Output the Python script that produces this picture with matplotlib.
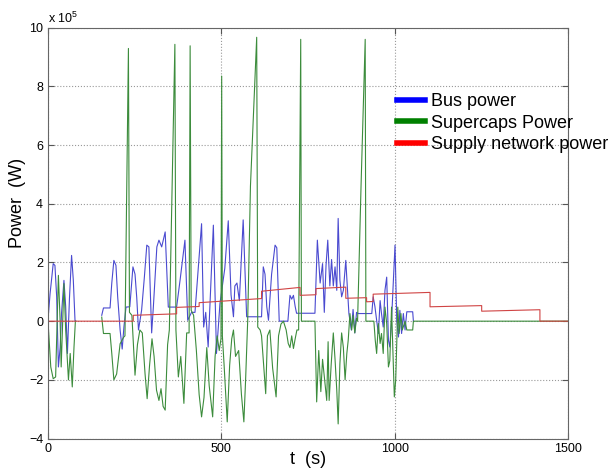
import matplotlib
matplotlib.use('Agg')
import matplotlib.pyplot as plt
from matplotlib.lines import Line2D

plt.rcParams['font.family'] = ['Liberation Sans', 'DejaVu Sans']
plt.rcParams['mathtext.fontset'] = 'custom'
plt.rcParams['mathtext.rm'] = 'Liberation Sans'

# power values in units of 1e5 W, time in s
bus_t_a = [0, 1, 6, 11, 15, 20, 25, 30, 35, 39, 46, 51, 56, 62, 68, 73, 78, 80]
bus_p_a = [0.2, 0.2, 0.94, 1.5, 1.96, 1.9, 0.83, -1.56, -0.9, 0.26, 1.39, 0.5,
           -1.1, 0.8, 2.24, 1.4, 0.0, 0.0]

bus_t_b = [155, 160, 179, 184, 190, 196, 201, 208, 214, 219, 225, 236, 245, 251,
           256, 261, 270, 278, 285, 291, 299, 304, 314, 320, 328, 338, 347, 371,
           381, 395, 403, 414, 424, 443, 449, 455, 462, 477, 486, 496, 510, 520,
           528, 535, 539, 545, 552, 563, 573, 616, 621, 626, 631, 636, 645, 655,
           660, 667, 692, 698, 703, 708, 713, 717, 770, 777, 785, 792, 797, 802,
           807, 813, 818, 823, 828, 833, 837, 842, 847, 852, 859, 864, 868, 875,
           880, 885, 890, 895, 934, 938, 943, 948, 953, 958, 962, 967, 972, 977,
           982, 986, 991, 1001, 1006, 1011, 1015, 1020, 1025, 1030, 1035, 1052,
           1054]
bus_p_b = [0.2, 0.45, 0.45, 1.3, 2.07, 1.9, 0.83, -0.3, -0.95, -0.2, 0.48, 0.49,
           1.85, 1.6, 0.8, -0.3, 0.37, 1.5, 2.59, 2.53, -0.4, 0.5, 2.53, 2.76,
           2.53, 3.04, 0.48, 0.48, 1.4, 2.76, 0.03, 0.3, 0.3, 3.32, -0.2, 0.3,
           -0.88, 3.27, -1.1, 0.6, 1.8, 3.42, 0.9, 0.15, 1.2, 1.3, 0.7, 3.45,
           0.15, 0.15, 1.85, 1.6, 0.5, 0.03, 1.6, 2.59, 2.5, 0.0, 0.0, 0.88,
           0.75, 0.88, 0.5, 0.27, 0.27, 2.76, 1.3, 1.96, 0.3, 1.9, 2.76, 1.2,
           2.1, 1.2, 1.85, 1.05, 3.5, 1.4, 0.83, 1.05, 2.07, 1.05, 0.26, -0.3,
           0.4, -0.4, 0.3, 0.26, 0.26, 0.83, 0.5, 0.03, -0.42, 0.7, 0.26, -0.2,
           1.05, 1.5, -0.65, -0.88, 0.03, 2.59, 0.03, -0.54, 0.37, -0.42, 0.26,
           -0.3, 0.32, 0.32, 0.0]

cap_t_a = [0, 1, 8, 15, 22, 30, 35, 38, 46, 51, 59, 64, 70, 75, 79, 80]
cap_p_a = [0.14, -0.2, -1.56, -1.96, -1.9, 1.56, 0.0, -1.56, 1.28, -0.3, -2.0,
           -1.1, -2.24, -0.88, 0.0, 0.0]

cap_t_b = [155, 160, 179, 184, 190, 198, 208, 218, 222, 232, 235, 242, 251, 258,
           265, 272, 280, 286, 293, 300, 306, 313, 320, 326, 332, 338, 345, 350,
           366, 369, 376, 383, 392, 400, 407, 410, 413, 420, 428, 436, 443, 450,
           458, 465, 475, 482, 488, 494, 499, 501, 503, 508, 517, 524, 530, 535,
           541, 550, 558, 565, 570, 576, 584, 602, 605, 612, 616, 621, 628, 633,
           640, 648, 658, 665, 672, 679, 687, 693, 698, 703, 708, 713, 718, 723,
           729, 731, 770, 775, 781, 787, 792, 798, 804, 808, 811, 817, 823, 828,
           833, 837, 842, 847, 852, 857, 862, 866, 871, 876, 880, 885, 890, 893,
           903, 915, 917, 940, 944, 948, 953, 958, 962, 967, 972, 977, 982, 986,
           991, 999, 1003, 1009, 1013, 1018, 1022, 1030, 1035, 1052, 1054, 1500]
cap_p_b = [0.14, -0.42, -0.42, -1.1, -2.0, -1.8, -0.77, -0.55, -0.5, 9.29, 0.3,
           0.2, -1.84, -0.8, -0.3, -0.4, -1.8, -2.64, -1.5, -0.6, -1.2, -2.35,
           -2.7, -2.3, -2.9, -3.03, -0.8, -0.3, 9.43, -0.3, -1.9, -1.2, -2.8,
           -0.4, -0.4, 9.38, 0.37, 0.2, -1.0, -2.5, -3.26, -2.6, -0.9, -2.2,
           -3.26, -1.2, -0.5, -1.0, -0.6, 8.35, -0.5, -1.5, -3.43, -1.5, -0.6,
           -0.3, -1.2, -1.0, -2.5, -3.43, -2.0, 0.0, 4.6, 9.67, -0.2, -0.3, -0.5,
           -1.3, -2.47, -0.5, -0.3, -1.6, -2.58, -0.5, -0.1, 0.0, -0.3, -0.76,
           -0.9, -0.5, -0.93, -0.6, -0.3, -0.3, 9.6, 0.0, 0.0, -2.75, -1.0, -2.4,
           -1.3, -2.0, -2.7, -0.7, -2.7, -1.45, -0.4, -1.3, -2.35, -3.5, -1.45,
           -0.4, -0.9, -2.0, -1.1, -0.65, 0.26, -0.3, 0.2, -0.4, 0.1, 0.0, 4.6,
           9.6, 0.0, 0.0, -0.65, -1.1, -0.08, -0.76, -0.42, -1.1, 0.48, -0.08,
           -1.56, -1.35, 0.48, -2.58, -2.0, 0.48, -0.42, 0.26, -0.3, 0.0, -0.3,
           -0.3, 0.0, 0.0]

net_t = [0, 246, 246, 371, 371, 436, 436, 616, 616, 727, 727, 773, 773, 859,
         859, 919, 919, 938, 938, 1102, 1102, 1251, 1251, 1419, 1419, 1500]
net_p = [0, 0, 0.2, 0.25, 0.47, 0.5, 0.63, 0.77, 1.02, 1.15, 0.88, 0.9, 1.11,
         1.16, 0.78, 0.8, 0.66, 0.67, 0.92, 0.98, 0.49, 0.53, 0.34, 0.39, 0, 0]

labels = ['Bus power', 'Supercaps Power', 'Supply network power']
yticks = [-4, -2, 0, 2, 4, 6, 8, 10]
xticks = [0, 500, 1000, 1500]

fig = plt.figure(figsize=(6.13, 4.70), dpi=100)
ax = fig.add_axes([48 / 613, 1 - 438.6 / 470, 520 / 613, 411 / 470])

lw = 0.8
ax.plot(bus_t_a, bus_p_a, color='#4a4ad0', lw=lw)
ax.plot(bus_t_b, bus_p_b, color='#4a4ad0', lw=lw)
ax.plot(cap_t_a, cap_p_a, color='#3c8c3c', lw=lw)
ax.plot(cap_t_b, cap_p_b, color='#3c8c3c', lw=lw)
ax.plot(net_t, net_p, color='#d04444', lw=lw)

ax.set_xlim(0, 1500)
ax.set_ylim(-4, 10)
ax.set_xticks(xticks)
ax.set_yticks(yticks)
ax.grid(True, linestyle=':', color='#999999', lw=0.8)
ax.tick_params(direction='in', length=4, labelsize=9, top=True, right=True,
               color='#555555')
for s in ax.spines.values():
    s.set_color('#666666')

handles = [Line2D([], [], color=c, lw=4) for c in ['#0000ff', '#008000', '#ff0000']]
ax.legend(handles, labels, loc='upper left', frameon=False, fontsize=13,
          bbox_to_anchor=(397 / 613, 1 - 93 / 470), bbox_transform=fig.transFigure,
          borderpad=0, borderaxespad=0, handlelength=1.55, handletextpad=0.33,
          labelspacing=0.25)

fig.text(48 / 613, 1 - 26 / 470, 'x 10$^{5}$', fontsize=9, ha='left', va='bottom')
fig.text(18 / 613, 1 - 203 / 470, 'Power  (W)', fontsize=13, rotation=90,
         ha='center', va='center')
fig.text(308 / 613, 1.5 / 470, 't  (s)', fontsize=13, ha='center', va='bottom')

fig.savefig('out.png', dpi=100)
